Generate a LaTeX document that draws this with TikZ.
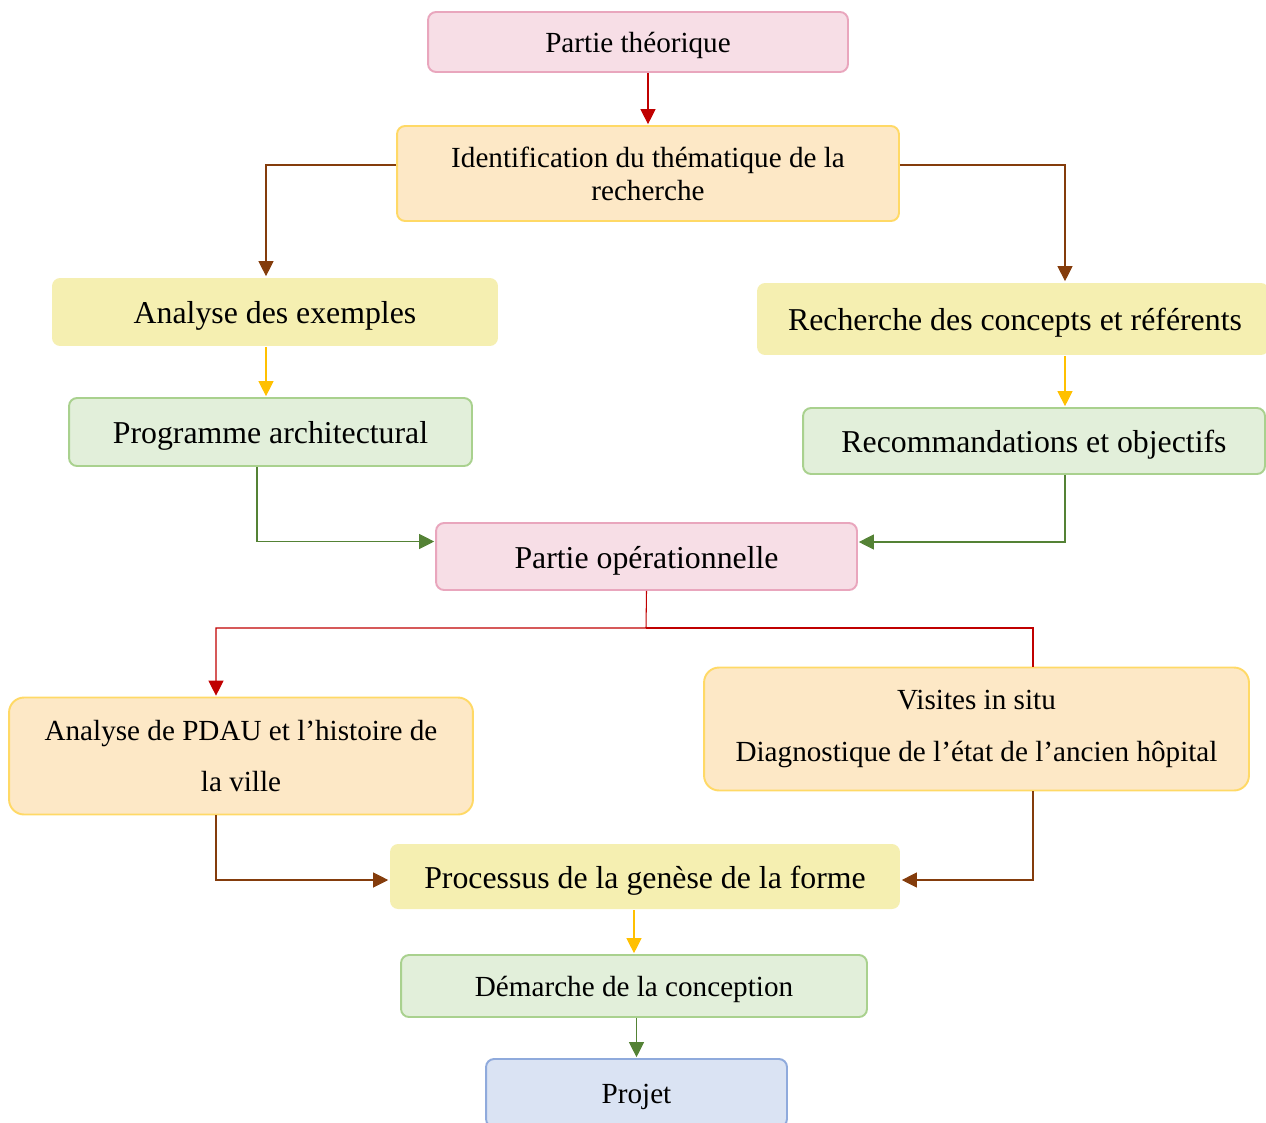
\documentclass[tikz,border=0pt]{standalone}
\usepackage{fontspec}
\setmainfont{Liberation Serif}
\usetikzlibrary{arrows.meta}

\definecolor{pinkfill}{HTML}{F7DEE6}
\definecolor{pinkline}{HTML}{E9A6BD}
\definecolor{orangefill}{HTML}{FDE8C6}
\definecolor{orangeline}{HTML}{FFD966}
\definecolor{yellowfill}{HTML}{F5EFB1}
\definecolor{greenfill}{HTML}{E2EFDA}
\definecolor{greenline}{HTML}{A9D18E}
\definecolor{bluefill}{HTML}{DAE3F3}
\definecolor{blueline}{HTML}{8FAADC}
\definecolor{redarr}{HTML}{C00000}
\definecolor{brownarr}{HTML}{843C0C}
\definecolor{yellowarr}{HTML}{FFC000}
\definecolor{greenarr}{HTML}{548235}

\newcommand{\txtsmall}{\fontsize{16.6}{18.8}\selectfont}
\newcommand{\txtbig}{\fontsize{18.1}{21}\selectfont}
\newcommand{\boxstrut}{\rule[-0.27em]{0pt}{1.27em}}

\tikzset{
	box/.style={rounded corners=0.16cm, inner sep=0pt, align=center, line width=1.1pt},
	pinkbox/.style={box, draw=pinkline, fill=pinkfill},
	orangebox/.style={box, draw=orangeline, fill=orangefill},
	yellowbox/.style={box, fill=yellowfill},
	greenbox/.style={box, draw=greenline, fill=greenfill},
	bluebox/.style={box, draw=blueline, fill=bluefill},
	link/.style={line width=0.6pt, -{Triangle[length=0.3cm,width=0.3cm]}, shorten >=0.5pt},
	plainlink/.style={line width=0.6pt}
}

\begin{document}
\begin{tikzpicture}[x=0.02cm, y=-0.02cm]
	\useasboundingbox (0,0) rectangle (1266,1122);

	\node[pinkbox, minimum width=8.4cm, minimum height=1.2cm, font=\txtsmall] (theo) at (638,42) {\boxstrut Partie théorique};
	\node[orangebox, minimum width=10.04cm, minimum height=1.9cm, font=\txtsmall] (ident) at (648,173.5) {Identification du thématique de la\\recherche};
	\node[yellowbox, minimum width=8.92cm, minimum height=1.36cm, font=\txtbig] (exemples) at (275,312) {\boxstrut Analyse des exemples};
	\node[yellowbox, minimum width=10.24cm, minimum height=1.44cm, font=\txtbig] (recherche) at (1013,319) {\hspace{0.08cm}\boxstrut Recherche des concepts et référents};
	\node[greenbox, minimum width=8.06cm, minimum height=1.36cm, font=\txtbig] (prog) at (270.5,432) {\boxstrut Programme architectural};
	\node[greenbox, minimum width=9.24cm, minimum height=1.32cm, font=\txtbig] (recom) at (1034,441) {\boxstrut Recommandations et objectifs};
	\node[pinkbox, minimum width=8.42cm, minimum height=1.34cm, font=\txtbig] (oper) at (646.5,556.5) {\boxstrut Partie opérationnelle};
	\node[orangebox, rounded corners=0.3cm, minimum width=9.28cm, minimum height=2.34cm, font=\fontsize{16.6}{28.5}\selectfont] (pdau) at (241,756) {Analyse de PDAU et l’histoire de\\la ville};
	\node[orangebox, rounded corners=0.3cm, minimum width=10.9cm, minimum height=2.46cm, font=\fontsize{16.6}{29.6}\selectfont] (visit) at (976.5,729) {Visites in situ\\Diagnostique de l’état de l’ancien hôpital};
	\node[yellowbox, minimum width=10.2cm, minimum height=1.3cm, font=\txtbig] (proc) at (645,876.5) {\boxstrut Processus de la genèse de la forme};
	\node[greenbox, minimum width=9.32cm, minimum height=1.24cm, font=\txtsmall] (demar) at (634,986) {\boxstrut Démarche de la conception};
	\node[bluebox, minimum width=6.02cm, minimum height=1.36cm, font=\txtsmall] (projet) at (636.5,1093) {\boxstrut Projet};

	\coordinate (ltop) at (266,0);
	\coordinate (rtop) at (1065,0);
	\coordinate (lmid) at (257,0);
	\coordinate (lbot) at (216,0);
	\coordinate (rbot) at (1033,0);
	\coordinate (split) at (646,628);

	\draw[link, redarr] (theo.south -| ident.north) -- (ident.north);
	\draw[link, brownarr] ([yshift=0.17cm]ident.west) -| (exemples.north -| ltop);
	\draw[link, brownarr] ([yshift=0.17cm]ident.east) -| (recherche.north -| rtop);
	\draw[link, yellowarr] (exemples.south -| ltop) -- (prog.north -| ltop);
	\draw[link, yellowarr] (recherche.south -| rtop) -- (recom.north -| rtop);
	\draw[link, greenarr] (prog.south -| lmid) |- ([yshift=0.3cm]oper.west);
	\draw[link, greenarr] (recom.south -| rtop) |- ([yshift=0.29cm]oper.east);
	\draw[link, redarr] (oper.south) -- (split) -| (pdau.north -| lbot);
	\draw[plainlink, redarr] (split) -| (visit.north -| rbot);
	\draw[link, brownarr] (pdau.south -| lbot) |- ([yshift=-0.07cm]proc.west);
	\draw[link, brownarr] (visit.south -| rbot) |- ([yshift=-0.07cm]proc.east);
	\draw[link, yellowarr] (proc.south -| demar.north) -- (demar.north);
	\draw[link, greenarr] (demar.south -| projet.north) -- (projet.north);
\end{tikzpicture}
\end{document}
